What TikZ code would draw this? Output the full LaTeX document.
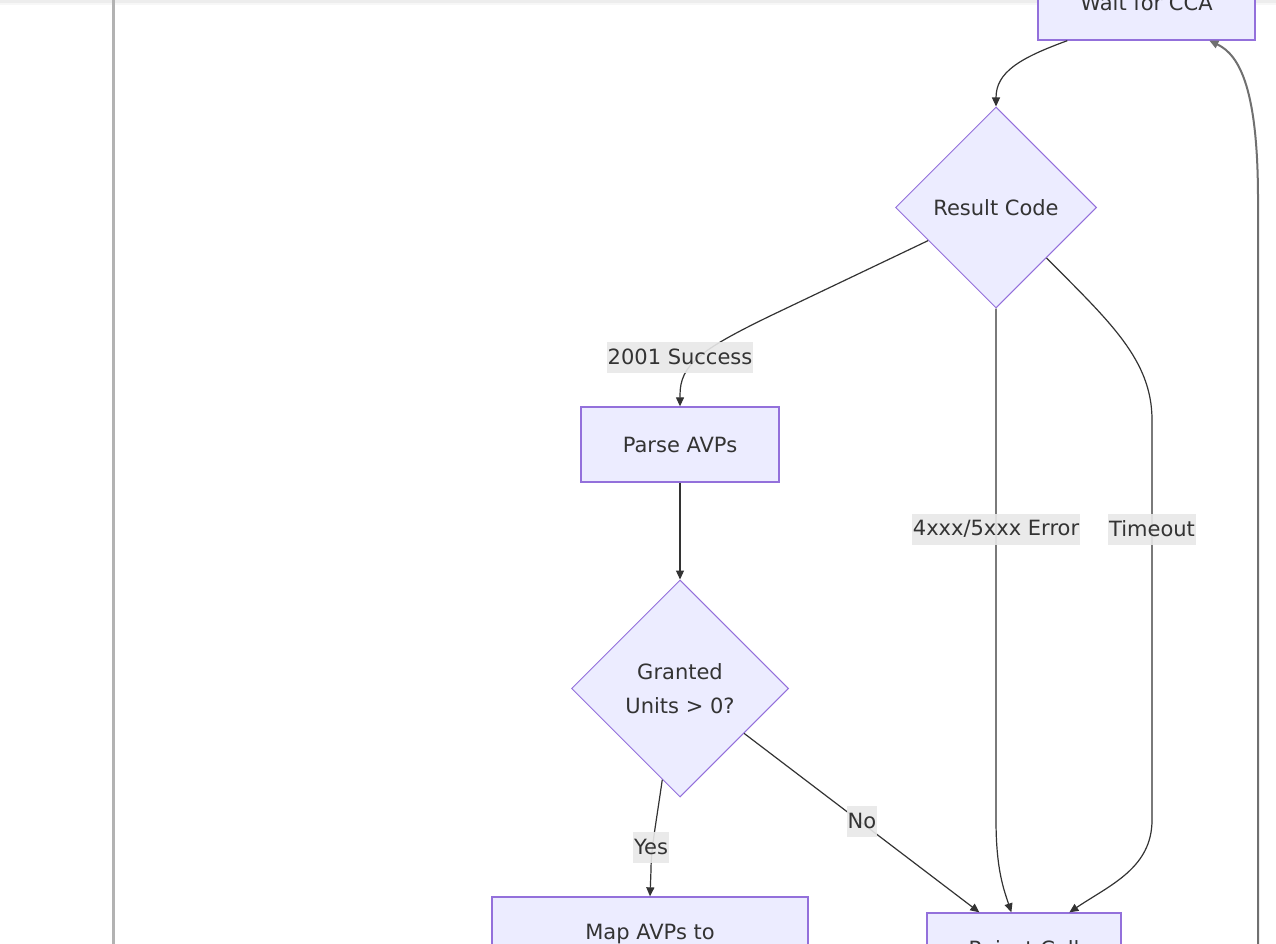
\documentclass[tikz,border=0pt]{standalone}
\usepackage{fontspec}
\setmainfont{DejaVu Sans}
\usetikzlibrary{shapes.geometric,arrows.meta,calc}
\definecolor{nfill}{HTML}{ECECFF}
\definecolor{nborder}{HTML}{9370DB}
\definecolor{edge}{HTML}{333333}
\definecolor{lbl}{HTML}{E8E8E8}
\definecolor{txt}{HTML}{333333}
\tikzset{
  x=1pt,y=-1pt,
  boxnode/.style={draw=nborder,fill=nfill,line width=1.3pt,rectangle,minimum height=75pt,inner sep=0pt,text=txt,font=\fontsize{21}{31}\selectfont},
  decnode/.style={draw=nborder,fill=nfill,line width=1pt,diamond,aspect=1,inner sep=0pt,text=txt,align=center,font=\fontsize{21}{34}\selectfont},
  edgeline/.style={draw=edge,line width=1.2pt,-{Triangle[length=9pt,width=8pt]}},
  elabel/.style={fill=lbl,fill opacity=0.9,text opacity=1,text=txt,inner xsep=1pt,inner ysep=0pt,minimum height=31pt,font=\fontsize{21}{31}\selectfont},
}
\begin{document}
\begin{tikzpicture}
\useasboundingbox (0,0) rectangle (1276,944);
\clip (0,0) rectangle (1276,944);
\fill[white] (0,0) rectangle (1276,944);
% top shadow
\fill[black!7] (0,0) rectangle (1276,3);
\fill[black!3] (0,3) rectangle (1276,5);
% left border line
\draw[black!30,line width=3pt] (113,0) -- (113,944);

\node[boxnode,minimum width=217pt] (wait) at (1146.5,2.5) {Wait for CCA};
\node[decnode,minimum size=201pt] (rc) at (996,207.5) {Result Code};
\node[boxnode,minimum width=198pt] (parse) at (680,444.5) {Parse AVPs};
\node[decnode,minimum size=217pt] (gr) at (680,688.5) {Granted\\Units > 0?};
\node[boxnode,minimum width=316pt] (map) at (650,934.5) {Map AVPs to};
\node[boxnode,minimum width=194pt] (rej) at (1024,950.5) {Reject Call};
\coordinate (loopsrc) at (1258,960);

% edges
\draw[edgeline] ([xshift=30pt]wait.south west) .. controls (1020,58) and (996,72) .. (rc.north);
\draw[edgeline] (rc.206.6) -- (770,316) .. controls (700,350) and (680,365) .. (680,395) -- (parse.north);
\draw[edgeline] (rc.south) -- (996,820) .. controls (996,870) and (1004,890) .. ([xshift=85pt]rej.north west);
\draw[edgeline] (rc.-45) .. controls (1110,322) and (1152,360) .. (1152,420) -- (1152,820) .. controls (1152,868) and (1110,885) .. ([xshift=143pt]rej.north west);
\draw[edgeline] (parse.south) -- (gr.north);
\draw[edgeline] (gr.259) .. controls (655,830) and (651,850) .. (651,870) -- (map.north);
\draw[edgeline] (gr.-35.7) -- ([xshift=53pt]rej.north west);
\draw[draw=edge!70,line width=2pt,-{Triangle[length=9pt,width=8pt]}] (loopsrc) -- (1258,200) .. controls (1258,90) and (1240,55) .. ([xshift=172pt]wait.south west);

% labels
\node[elabel] (l1) at (680,357) {2001 Success};
\node[elabel] (l2) at (996,529) {4xxx/5xxx Error};
\node[elabel] (l3) at (1152,529) {Timeout};
\node[elabel] (l4) at (651,847) {Yes};
\node[elabel] (l5) at (862,821) {No};
\end{tikzpicture}
\end{document}
